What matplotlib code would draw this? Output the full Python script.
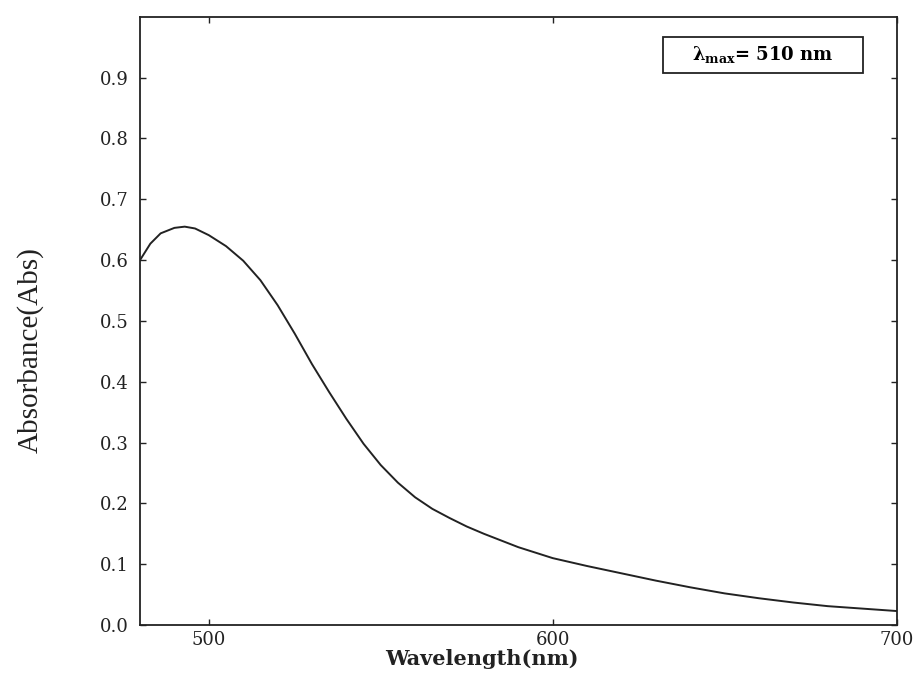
import numpy as np
import matplotlib.pyplot as plt
from matplotlib.patches import Rectangle

# absorbance spectrum
wavelength = [480, 483, 486, 490, 493, 496, 500, 505, 510, 515, 520, 525, 530,
              535, 540, 545, 550, 555, 560, 565, 570, 575, 580, 590, 600, 610,
              620, 630, 640, 650, 660, 670, 680, 690, 700]
absorbance = [0.600, 0.627, 0.644, 0.653, 0.655, 0.652, 0.641, 0.623, 0.599,
              0.567, 0.526, 0.479, 0.429, 0.383, 0.339, 0.298, 0.263, 0.234,
              0.210, 0.191, 0.176, 0.162, 0.150, 0.128, 0.110, 0.097, 0.085,
              0.073, 0.062, 0.052, 0.044, 0.037, 0.031, 0.027, 0.023]

x_ticks = [500, 600, 700]
y_ticks = [0.0, 0.1, 0.2, 0.3, 0.4, 0.5, 0.6, 0.7, 0.8, 0.9]
annotation = r"λ$_{\mathbf{max}}$= 510 nm"

plt.rcParams['mathtext.fontset'] = 'dejavuserif'

fig = plt.figure(figsize=(9.17, 6.73), dpi=100)
ax = fig.add_axes([0.1527, 0.0713, 0.825, 0.9037])

ax.plot(wavelength, absorbance, color='#222222', lw=1.4)

ax.set_xlim(480, 700)
ax.set_ylim(0, 1.0)
ax.set_xticks(x_ticks)
ax.set_yticks(y_ticks)
ax.set_yticklabels([f'{v:.1f}' for v in y_ticks])
ax.tick_params(direction='in', length=4, width=1, top=True, right=True,
               labelsize=13, colors='#222222')
ax.tick_params(axis='x', pad=4)
ax.tick_params(axis='y', pad=8)
for lab in ax.get_xticklabels() + ax.get_yticklabels():
    lab.set_family('DejaVu Serif')
for sp in ax.spines.values():
    sp.set_linewidth(1.3)
    sp.set_color('#222222')

# lambda max box
ax.add_patch(Rectangle((0.691, 0.908), 0.264, 0.059, transform=ax.transAxes,
                       fill=False, lw=1.3, ec='#222222'))
ax.text(0.823, 0.9375, annotation, transform=ax.transAxes, ha='center',
        va='center', fontsize=13, fontweight='bold', family='DejaVu Serif')

fig.text(482 / 917, 1 - 659 / 673, 'Wavelength(nm)', ha='center', va='center',
         fontsize=15, fontweight='bold', family='DejaVu Serif', color='#222222')
fig.text(30 / 917, 1 - 350 / 673, 'Absorbance(Abs)', ha='center', va='center',
         rotation=90, fontsize=21, family='Liberation Serif', color='#222222')

fig.savefig('out.png', dpi=100)
